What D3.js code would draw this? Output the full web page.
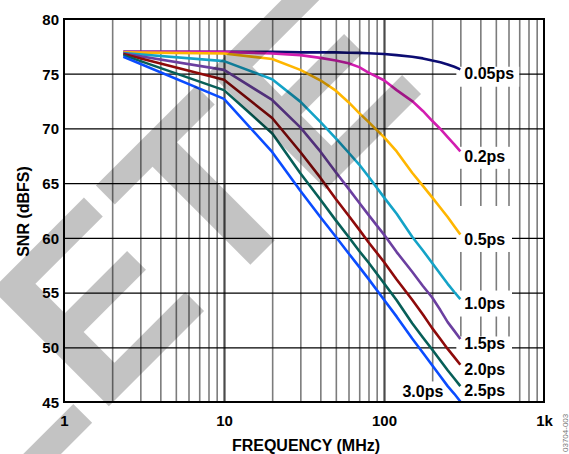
<!DOCTYPE html>
<html>
<head>
<meta charset="utf-8">
<script src="https://cdn.jsdelivr.net/npm/d3@7"></script>
<style>
  html, body { margin: 0; padding: 0; background: #fff; }
  svg { display: block; font-family: "Liberation Sans", Arial, Helvetica, sans-serif; }
</style>
</head>
<body>
<svg id="chart" width="569" height="454"></svg>
<script>
// Input frequencies (MHz) at which each curve is sampled
const freqMHz = [2.35, 10, 20, 30, 40, 50, 60, 70, 80, 100, 120, 150, 175, 200, 225, 250, 275, 300];

// SNR (dBFS) for each clock jitter value
const snr005 = [77.0, 77.0, 77.0, 76.95, 76.95, 76.95, 76.92, 76.9, 76.87, 76.8, 76.7, 76.55, 76.4, 76.2, 76.05, 75.85, 75.63, 75.4];
const snr02  = [77.0, 77.0, 76.85, 76.7, 76.45, 76.2, 75.95, 75.6, 75.1, 74.4, 73.5, 72.5, 71.6, 70.7, 69.95, 69.2, 68.55, 67.9];
const snr05  = [76.95, 76.85, 76.35, 75.35, 74.4, 73.45, 72.4, 71.4, 70.6, 69.2, 67.9, 65.95, 64.75, 63.7, 62.75, 61.9, 61.05, 60.3];
const snr10  = [76.9, 76.15, 74.5, 72.45, 70.6, 69.1, 67.8, 66.7, 65.6, 63.7, 62.2, 60.1, 58.85, 57.7, 56.7, 55.8, 55.05, 54.4];
const snr15  = [76.85, 75.35, 72.6, 70.1, 67.9, 66.0, 64.5, 63.2, 62.1, 60.3, 58.7, 56.9, 55.6, 54.55, 53.4, 52.3, 51.5, 50.75];
const snr20  = [76.8, 74.45, 70.95, 67.85, 65.5, 63.55, 62.05, 60.75, 59.6, 57.8, 56.2, 54.35, 53.0, 51.75, 50.75, 49.85, 49.1, 48.4];
const snr25  = [76.7, 73.5, 69.55, 65.9, 63.5, 61.6, 60.1, 58.8, 57.75, 55.85, 54.3, 52.2, 50.9, 49.8, 48.8, 47.9, 47.15, 46.45];
const snr30  = [76.55, 72.7, 67.85, 64.3, 61.9, 60.1, 58.6, 57.35, 56.25, 54.35, 52.8, 50.8, 49.5, 48.35, 47.35, 46.45, 45.75, 45.05];

const jitterLabels = ["0.05ps", "0.2ps", "0.5ps", "1.0ps", "1.5ps", "2.0ps", "2.5ps", "3.0ps"];

// Axis ticks
const yTicks = [45, 50, 55, 60, 65, 70, 75, 80];
const xTickValues = [1, 10, 100, 1000];
const xTickLabels = ["1", "10", "100", "1k"];

const xTitle = "FREQUENCY (MHz)";
const yTitle = "SNR (dBFS)";
const figureId = "03704-003";
const stampText = "OBSOLETE";

// ---------------------------------------------------------------
const seriesValues = [snr005, snr02, snr05, snr10, snr15, snr20, snr25, snr30];
const colors = ["#0c0c72", "#d21db0", "#ffb600", "#14a3c7", "#6b3fa0", "#8e0a0a", "#075f58", "#0a4cff"];

const svg = d3.select("#chart");
const L = 64, R = 544, T = 19, B = 402;

const x = d3.scaleLog().domain([1, 1000]).range([L, R]);
const y = d3.scaleLinear().domain([45, 80]).range([B, T]);

// Vertical grid: minor lines at 2..9 of each decade, darker lines at decades
const minorX = [];
[1, 10, 100].forEach(d => { for (let k = 2; k <= 9; k++) minorX.push(k * d); });
const majorX = [10, 100];

const gridMinor = svg.append("g")
  .attr("transform", `translate(0,${B})`)
  .call(d3.axisBottom(x).tickValues(minorX).tickSize(-(B - T)).tickFormat(""));
gridMinor.select(".domain").remove();
gridMinor.selectAll("line").attr("stroke", "#7c7c7c").attr("stroke-width", 1.6);

const gridMajor = svg.append("g")
  .attr("transform", `translate(0,${B})`)
  .call(d3.axisBottom(x).tickValues(majorX).tickSize(-(B - T)).tickFormat(""));
gridMajor.select(".domain").remove();
gridMajor.selectAll("line").attr("stroke", "#4a4a4a").attr("stroke-width", 2.2);

// Horizontal grid
const gridY = svg.append("g")
  .attr("transform", `translate(${L},0)`)
  .call(d3.axisLeft(y).tickValues(yTicks.filter(v => v > 45 && v < 80)).tickSize(-(R - L)).tickFormat(""));
gridY.select(".domain").remove();
gridY.selectAll("line").attr("stroke", "#000").attr("stroke-width", 1.3);

// Curve labels with white backing boxes that break the grid
const lastF = freqMHz[freqMHz.length - 1];
const labelGroup = svg.append("g").attr("font-size", 16).attr("font-weight", "bold");
const boxLayer = labelGroup.append("g");
const textLayer = labelGroup.append("g");
const boxPad = [[7, 13], [9, 13], [33, 13], [13, 13], [7, 60], [6, 40], [6, 20]];

jitterLabels.forEach((lab, i) => {
  const vals = seriesValues[i];
  const endY = y(vals[vals.length - 1]);
  let tx, cy, anchor;
  if (i === 7) { tx = x(lastF) - 17; cy = endY - 10; anchor = "end"; }
  else { tx = x(lastF) + 4; cy = endY + 4.4; anchor = "start"; }
  const t = textLayer.append("text")
    .attr("x", tx).attr("y", cy + 5.7)
    .attr("text-anchor", anchor)
    .attr("fill", "#000")
    .text(lab);
  const bb = t.node().getBBox();
  if (i === 7) {
    boxLayer.append("rect")
      .attr("x", bb.x - 4).attr("y", cy - 10)
      .attr("width", bb.width + 7).attr("height", B - (cy - 10))
      .attr("fill", "#fff");
  } else {
    const [pt, pb] = boxPad[i];
    const x0 = x(lastF) - 4;
    const x1 = Math.max(512, bb.x + bb.width + 5);
    const y1 = Math.min(B, cy + pb);
    boxLayer.append("rect")
      .attr("x", x0).attr("y", cy - pt)
      .attr("width", x1 - x0).attr("height", y1 - (cy - pt))
      .attr("fill", "#fff");
  }
});

// Curves
const line = d3.line().x(d => x(d[0])).y(d => y(d[1]));
const curves = svg.append("g");
seriesValues.forEach((vals, i) => {
  curves.append("path")
    .datum(freqMHz.map((f, j) => [f, vals[j]]))
    .attr("d", line)
    .attr("fill", "none")
    .attr("stroke", colors[i])
    .attr("stroke-width", 2.6)
    .attr("stroke-linejoin", "round");
});
textLayer.raise();

// Frame
svg.append("rect")
  .attr("x", L).attr("y", T).attr("width", R - L).attr("height", B - T)
  .attr("fill", "none").attr("stroke", "#000").attr("stroke-width", 2);

// Tick labels
const yAxis = svg.append("g")
  .attr("transform", `translate(${L},0)`)
  .call(d3.axisLeft(y).tickValues(yTicks).tickSize(0).tickPadding(5).tickFormat(d3.format("d")));
yAxis.select(".domain").remove();
yAxis.selectAll("text")
  .attr("font-family", null).attr("font-size", 15).attr("font-weight", "bold")
  .attr("fill", "#000").attr("dy", "0.36em");

const xAxis = svg.append("g")
  .attr("transform", `translate(0,${B})`)
  .call(d3.axisBottom(x).tickValues(xTickValues).tickSize(0).tickPadding(13)
    .tickFormat((d, i) => xTickLabels[i]));
xAxis.select(".domain").remove();
xAxis.selectAll("text")
  .attr("font-family", null).attr("font-size", 15).attr("font-weight", "bold")
  .attr("fill", "#000");

// Axis titles
svg.append("text")
  .attr("x", (L + R) / 2 + 2).attr("y", 451.2)
  .attr("text-anchor", "middle").attr("font-size", 16).attr("font-weight", "bold")
  .text(xTitle);

svg.append("text")
  .attr("transform", `translate(29,${(T + B) / 2 + 1}) rotate(-90)`)
  .attr("text-anchor", "middle").attr("font-size", 16).attr("font-weight", "bold")
  .text(yTitle);

// Figure number along the right edge
svg.append("text")
  .attr("transform", "translate(568,452) rotate(-90)")
  .attr("font-size", 8).attr("fill", "#777")
  .text(figureId);

// Diagonal stamp across the plot
svg.append("text")
  .attr("transform", "translate(110,405) rotate(-45)")
  .attr("x", -871).attr("y", 0)
  .attr("font-size", 240).attr("font-weight", "bold")
  .attr("fill", "#000").attr("fill-opacity", 0.235)
  .text(stampText);
</script>
</body>
</html>
